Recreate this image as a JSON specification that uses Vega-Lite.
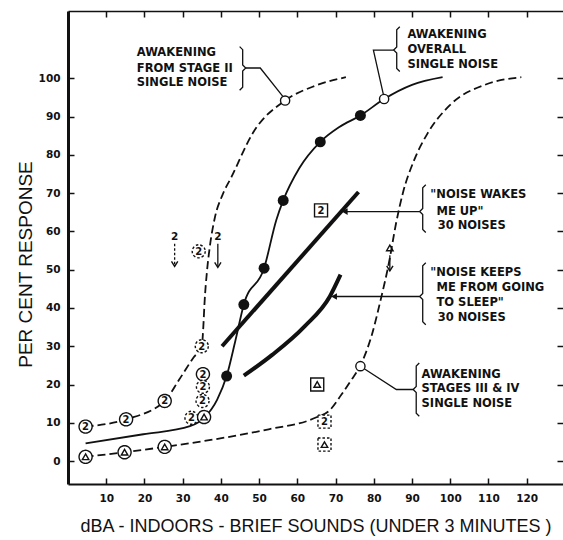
{
  "$schema": "https://vega.github.io/schema/vega-lite/v6.json",
  "width": 495,
  "height": 473,
  "autosize": {"type": "none"},
  "padding": {"left": 68, "top": 11, "right": 0, "bottom": 56},
  "background": "white",
  "config": {
    "view": {"stroke": null},
    "axis": {
      "grid": false,
      "labelFont": "DejaVu Sans",
      "labelFontWeight": "bold",
      "labelFontSize": 10.5,
      "labelColor": "#111",
      "tickColor": "#111",
      "domainColor": "#111",
      "titleFont": "Liberation Sans",
      "titleFontWeight": "normal",
      "titleColor": "#111"
    }
  },
  "resolve": {"axis": {"x": "independent", "y": "independent"}},
  "datasets": {
    "curves": [
      {"s": "stage2", "x": 4.6, "y": 9.0},
      {"s": "stage2", "x": 15.2, "y": 10.9},
      {"s": "stage2", "x": 25.3, "y": 15.7},
      {"s": "stage2", "x": 29.1, "y": 21.3},
      {"s": "stage2", "x": 32.8, "y": 27.0},
      {"s": "stage2", "x": 35.0, "y": 30.0},
      {"s": "stage2", "x": 35.4, "y": 35.0},
      {"s": "stage2", "x": 35.7, "y": 41.0},
      {"s": "stage2", "x": 36.4, "y": 50.0},
      {"s": "stage2", "x": 37.1, "y": 56.0},
      {"s": "stage2", "x": 38.4, "y": 63.5},
      {"s": "stage2", "x": 40.4, "y": 69.5},
      {"s": "stage2", "x": 42.8, "y": 74.3},
      {"s": "stage2", "x": 48.4, "y": 85.8},
      {"s": "stage2", "x": 56.8, "y": 94.2},
      {"s": "stage2", "x": 64.5, "y": 98.0},
      {"s": "stage2", "x": 72.7, "y": 100.3},
      {"s": "stage34", "x": 4.6, "y": 1.1},
      {"s": "stage34", "x": 14.8, "y": 2.3},
      {"s": "stage34", "x": 25.3, "y": 3.7},
      {"s": "stage34", "x": 38.5, "y": 5.7},
      {"s": "stage34", "x": 52.5, "y": 8.3},
      {"s": "stage34", "x": 64.7, "y": 11.3},
      {"s": "stage34", "x": 68.5, "y": 13.3},
      {"s": "stage34", "x": 71.5, "y": 17.3},
      {"s": "stage34", "x": 74.0, "y": 21.0},
      {"s": "stage34", "x": 76.5, "y": 25.0},
      {"s": "stage34", "x": 79.5, "y": 33.0},
      {"s": "stage34", "x": 81.6, "y": 41.3},
      {"s": "stage34", "x": 84.0, "y": 52.0},
      {"s": "stage34", "x": 85.8, "y": 62.0},
      {"s": "stage34", "x": 87.6, "y": 70.0},
      {"s": "stage34", "x": 90.5, "y": 78.5},
      {"s": "stage34", "x": 94.0, "y": 85.5},
      {"s": "stage34", "x": 99.9, "y": 93.0},
      {"s": "stage34", "x": 109.3, "y": 98.4},
      {"s": "stage34", "x": 118.6, "y": 100.3},
      {"s": "overall", "x": 4.6, "y": 4.6},
      {"s": "overall", "x": 19.7, "y": 7.0},
      {"s": "overall", "x": 31.9, "y": 9.1},
      {"s": "overall", "x": 35.6, "y": 11.3},
      {"s": "overall", "x": 39.0, "y": 16.0},
      {"s": "overall", "x": 41.5, "y": 22.2},
      {"s": "overall", "x": 43.8, "y": 31.5},
      {"s": "overall", "x": 46.0, "y": 40.9},
      {"s": "overall", "x": 51.3, "y": 50.4},
      {"s": "overall", "x": 54.5, "y": 63.0},
      {"s": "overall", "x": 56.3, "y": 68.1},
      {"s": "overall", "x": 60.5, "y": 76.5},
      {"s": "overall", "x": 66.0, "y": 83.4},
      {"s": "overall", "x": 71.0, "y": 87.3},
      {"s": "overall", "x": 76.5, "y": 90.3},
      {"s": "overall", "x": 82.7, "y": 94.6},
      {"s": "overall", "x": 90.0, "y": 98.3},
      {"s": "overall", "x": 98.0, "y": 100.3},
      {"s": "wakes", "x": 40.3, "y": 30.0},
      {"s": "wakes", "x": 76.0, "y": 70.3},
      {"s": "keeps", "x": 46.0, "y": 22.3},
      {"s": "keeps", "x": 53.5, "y": 27.8},
      {"s": "keeps", "x": 61.9, "y": 35.2},
      {"s": "keeps", "x": 68.5, "y": 43.0},
      {"s": "keeps", "x": 71.3, "y": 48.7}
    ],
    "paths": [
      {"g": "b1", "o": 1, "st": "solid", "x": 44.9, "y": 108.3},
      {"g": "b1", "o": 2, "st": "solid", "x": 45.7, "y": 107.5},
      {"g": "b1", "o": 3, "st": "solid", "x": 45.7, "y": 103.5},
      {"g": "b1", "o": 4, "st": "solid", "x": 46.5, "y": 102.7},
      {"g": "b1", "o": 5, "st": "solid", "x": 45.7, "y": 101.9},
      {"g": "b1", "o": 6, "st": "solid", "x": 45.7, "y": 97.7},
      {"g": "b1", "o": 7, "st": "solid", "x": 44.9, "y": 96.9},
      {"g": "l1", "o": 1, "st": "solid", "x": 46.5, "y": 102.7},
      {"g": "l1", "o": 2, "st": "solid", "x": 50.3, "y": 102.7},
      {"g": "l1", "o": 3, "st": "solid", "x": 56.2, "y": 95.3},
      {"g": "b2", "o": 1, "st": "solid", "x": 86.8, "y": 113.5},
      {"g": "b2", "o": 2, "st": "solid", "x": 86.0, "y": 112.7},
      {"g": "b2", "o": 3, "st": "solid", "x": 86.0, "y": 108.2},
      {"g": "b2", "o": 4, "st": "solid", "x": 85.2, "y": 107.4},
      {"g": "b2", "o": 5, "st": "solid", "x": 86.0, "y": 106.6},
      {"g": "b2", "o": 6, "st": "solid", "x": 86.0, "y": 102.6},
      {"g": "b2", "o": 7, "st": "solid", "x": 86.8, "y": 101.8},
      {"g": "l2", "o": 1, "st": "solid", "x": 85.2, "y": 107.4},
      {"g": "l2", "o": 2, "st": "solid", "x": 79.9, "y": 107.4},
      {"g": "l2", "o": 3, "st": "solid", "x": 82.5, "y": 95.8},
      {"g": "b3", "o": 1, "st": "solid", "x": 93.6, "y": 72.2},
      {"g": "b3", "o": 2, "st": "solid", "x": 92.8, "y": 71.4},
      {"g": "b3", "o": 3, "st": "solid", "x": 92.8, "y": 66.0},
      {"g": "b3", "o": 4, "st": "solid", "x": 92.0, "y": 65.2},
      {"g": "b3", "o": 5, "st": "solid", "x": 92.8, "y": 64.4},
      {"g": "b3", "o": 6, "st": "solid", "x": 92.8, "y": 60.5},
      {"g": "b3", "o": 7, "st": "solid", "x": 93.6, "y": 59.7},
      {"g": "l3", "o": 1, "st": "solid", "x": 92.0, "y": 65.2},
      {"g": "l3", "o": 2, "st": "solid", "x": 72.6, "y": 65.2},
      {"g": "b4", "o": 1, "st": "solid", "x": 93.6, "y": 51.8},
      {"g": "b4", "o": 2, "st": "solid", "x": 92.8, "y": 51.0},
      {"g": "b4", "o": 3, "st": "solid", "x": 92.8, "y": 43.8},
      {"g": "b4", "o": 4, "st": "solid", "x": 92.0, "y": 43.0},
      {"g": "b4", "o": 5, "st": "solid", "x": 92.8, "y": 42.2},
      {"g": "b4", "o": 6, "st": "solid", "x": 92.8, "y": 36.4},
      {"g": "b4", "o": 7, "st": "solid", "x": 93.6, "y": 35.6},
      {"g": "l4", "o": 1, "st": "solid", "x": 92.0, "y": 43.0},
      {"g": "l4", "o": 2, "st": "solid", "x": 69.8, "y": 43.0},
      {"g": "b5", "o": 1, "st": "solid", "x": 91.9, "y": 25.6},
      {"g": "b5", "o": 2, "st": "solid", "x": 91.1, "y": 24.8},
      {"g": "b5", "o": 3, "st": "solid", "x": 91.1, "y": 19.5},
      {"g": "b5", "o": 4, "st": "solid", "x": 90.3, "y": 18.7},
      {"g": "b5", "o": 5, "st": "solid", "x": 91.1, "y": 17.9},
      {"g": "b5", "o": 6, "st": "solid", "x": 91.1, "y": 12.5},
      {"g": "b5", "o": 7, "st": "solid", "x": 91.9, "y": 11.7},
      {"g": "l5", "o": 1, "st": "solid", "x": 90.3, "y": 18.7},
      {"g": "l5", "o": 2, "st": "solid", "x": 85.9, "y": 18.7},
      {"g": "l5", "o": 3, "st": "solid", "x": 77.2, "y": 24.3},
      {"g": "a1", "o": 1, "st": "dashed", "x": 27.9, "y": 56.8},
      {"g": "a1", "o": 2, "st": "dashed", "x": 27.9, "y": 51.0},
      {"g": "a2", "o": 1, "st": "solid", "x": 39.2, "y": 56.8},
      {"g": "a2", "o": 2, "st": "solid", "x": 39.2, "y": 50.7},
      {"g": "a3", "o": 1, "st": "solid", "x": 84.2, "y": 53.8},
      {"g": "a3", "o": 2, "st": "solid", "x": 84.2, "y": 49.8}
    ],
    "dots": [
      {"x": 41.5, "y": 22.2},
      {"x": 46.0, "y": 40.9},
      {"x": 51.3, "y": 50.4},
      {"x": 56.3, "y": 68.1},
      {"x": 66.0, "y": 83.4},
      {"x": 76.5, "y": 90.3}
    ],
    "ovals": [
      {"x": 56.8, "y": 94.2},
      {"x": 82.7, "y": 94.6},
      {"x": 76.5, "y": 24.8}
    ],
    "markers": [
      {"x": 4.6, "y": 9.0, "frame": "circle", "dash": "solid", "inner": "2"},
      {"x": 15.2, "y": 10.9, "frame": "circle", "dash": "solid", "inner": "2"},
      {"x": 25.3, "y": 15.7, "frame": "circle", "dash": "solid", "inner": "2"},
      {"x": 35.3, "y": 22.7, "frame": "circle", "dash": "solid", "inner": "2"},
      {"x": 35.0, "y": 30.0, "frame": "circle", "dash": "dashed", "inner": "2"},
      {"x": 35.3, "y": 19.4, "frame": "circle", "dash": "dashed", "inner": "2"},
      {"x": 35.2, "y": 15.7, "frame": "circle", "dash": "dashed", "inner": "2"},
      {"x": 32.3, "y": 11.3, "frame": "circle", "dash": "dashed", "inner": "2"},
      {"x": 34.2, "y": 54.8, "frame": "circle", "dash": "dashed", "inner": "2"},
      {"x": 4.6, "y": 1.1, "frame": "circle", "dash": "solid", "inner": "tri"},
      {"x": 14.8, "y": 2.3, "frame": "circle", "dash": "solid", "inner": "tri"},
      {"x": 25.3, "y": 3.7, "frame": "circle", "dash": "solid", "inner": "tri"},
      {"x": 35.6, "y": 11.5, "frame": "circle", "dash": "solid", "inner": "tri"},
      {"x": 66.2, "y": 65.5, "frame": "square", "dash": "solid", "inner": "2"},
      {"x": 65.2, "y": 20.0, "frame": "square", "dash": "solid", "inner": "tri"},
      {"x": 67.1, "y": 10.3, "frame": "square", "dash": "dashed", "inner": "2"},
      {"x": 67.1, "y": 4.3, "frame": "square", "dash": "dashed", "inner": "tri"},
      {"x": 84.2, "y": 55.7, "frame": "none", "dash": "solid", "inner": "tri"}
    ],
    "lefthead": [
      {"x": 72.4, "y": 65.2},
      {"x": 69.6, "y": 43.0}
    ],
    "downhead": [
      {"x": 27.9, "y": 51.2},
      {"x": 39.2, "y": 50.9},
      {"x": 84.2, "y": 50.0}
    ],
    "arrowlabels": [
      {"x": 27.9, "y": 58.6, "t": "2"},
      {"x": 39.2, "y": 58.6, "t": "2"}
    ],
    "labels": [
      {"x": 18.0, "y": 106.6, "t": "AWAKENING"},
      {"x": 18.0, "y": 102.5, "t": "FROM STAGE II"},
      {"x": 18.0, "y": 98.7, "t": "SINGLE NOISE"},
      {"x": 88.8, "y": 111.4, "t": "AWAKENING"},
      {"x": 88.8, "y": 107.4, "t": "OVERALL"},
      {"x": 88.8, "y": 103.5, "t": "SINGLE NOISE"},
      {"x": 94.8, "y": 69.6, "t": "\"NOISE WAKES"},
      {"x": 96.4, "y": 65.2, "t": "ME UP\""},
      {"x": 96.7, "y": 61.3, "t": "30 NOISES"},
      {"x": 94.8, "y": 49.1, "t": "\"NOISE KEEPS"},
      {"x": 96.4, "y": 45.2, "t": "ME FROM GOING"},
      {"x": 96.4, "y": 41.3, "t": "TO SLEEP\""},
      {"x": 96.7, "y": 37.4, "t": "30 NOISES"},
      {"x": 92.5, "y": 22.6, "t": "AWAKENING"},
      {"x": 92.5, "y": 18.7, "t": "STAGES III & IV"},
      {"x": 92.5, "y": 14.8, "t": "SINGLE NOISE"}
    ]
  },
  "layer": [
    {
      "data": {"name": "curves"},
      "transform": [{"filter": "datum.s === 'stage2' || datum.s === 'stage34'"}],
      "mark": {"type": "line", "interpolate": "monotone", "stroke": "#111", "strokeWidth": 1.8, "strokeDash": [8, 4]},
      "encoding": {
        "x": {"field": "x", "type": "quantitative", "scale": {"domain": [0, 129.5], "nice": false, "zero": false},
          "axis": {"orient": "bottom", "values": [10, 20, 30, 40, 50, 60, 70, 80, 90, 100, 110, 120], "tickSize": -6, "tickWidth": 1.5, "domainWidth": 2, "labelPadding": 15,
            "title": "dBA - INDOORS - BRIEF SOUNDS  (UNDER 3 MINUTES )", "titleFontSize": 18, "titlePadding": 14}},
        "y": {"field": "y", "type": "quantitative", "scale": {"domain": [-6, 117.6], "nice": false, "zero": false},
          "axis": {"orient": "left", "values": [0, 10, 20, 30, 40, 50, 60, 70, 80, 90, 100], "tickSize": -6, "tickWidth": 1.5, "domainWidth": 3, "labelPadding": 14,
            "title": "PER  CENT  RESPONSE", "titleFontSize": 19, "titleAngle": 270, "titleX": -43, "titleY": 253, "titleAlign": "center", "titleBaseline": "middle", "titleAnchor": null}},
        "detail": {"field": "s"}
      }
    },
    {
      "data": {"name": "curves"},
      "mark": {"type": "point", "opacity": 0},
      "encoding": {
        "x": {"field": "x", "type": "quantitative", "scale": {"domain": [0, 129.5], "nice": false, "zero": false},
          "axis": {"orient": "top", "values": [10, 20, 30, 40, 50, 60, 70, 80, 90, 100, 110, 120, 130], "tickSize": -6, "tickWidth": 1.5, "domainWidth": 1.5, "labels": false, "title": null}},
        "y": {"field": "y", "type": "quantitative", "scale": {"domain": [-6, 117.6], "nice": false, "zero": false},
          "axis": {"orient": "right", "values": [0, 10, 20, 30, 40, 50, 60, 70, 80, 90, 100], "tickSize": -6, "tickWidth": 1.5, "domain": false, "labels": false, "title": null}}
      }
    },
    {
      "data": {"name": "curves"},
      "transform": [{"filter": "datum.s === 'overall'"}],
      "mark": {"type": "line", "interpolate": "monotone", "stroke": "#111", "strokeWidth": 1.8},
      "encoding": {
        "x": {"field": "x", "type": "quantitative", "scale": {"domain": [0, 129.5], "nice": false, "zero": false}, "axis": null},
        "y": {"field": "y", "type": "quantitative", "scale": {"domain": [-6, 117.6], "nice": false, "zero": false}, "axis": null}
      }
    },
    {
      "data": {"name": "curves"},
      "transform": [{"filter": "datum.s === 'wakes' || datum.s === 'keeps'"}],
      "mark": {"type": "line", "interpolate": "monotone", "stroke": "#111", "strokeWidth": 4},
      "encoding": {
        "x": {"field": "x", "type": "quantitative", "scale": {"domain": [0, 129.5], "nice": false, "zero": false}, "axis": null},
        "y": {"field": "y", "type": "quantitative", "scale": {"domain": [-6, 117.6], "nice": false, "zero": false}, "axis": null},
        "detail": {"field": "s"}
      }
    },
    {
      "data": {"name": "paths"},
      "transform": [{"filter": "datum.st === 'solid'"}],
      "mark": {"type": "line", "stroke": "#111", "strokeWidth": 1.3},
      "encoding": {
        "x": {"field": "x", "type": "quantitative", "scale": {"domain": [0, 129.5], "nice": false, "zero": false}, "axis": null},
        "y": {"field": "y", "type": "quantitative", "scale": {"domain": [-6, 117.6], "nice": false, "zero": false}, "axis": null},
        "detail": {"field": "g"},
        "order": {"field": "o"}
      }
    },
    {
      "data": {"name": "paths"},
      "transform": [{"filter": "datum.st === 'dashed'"}],
      "mark": {"type": "line", "stroke": "#111", "strokeWidth": 1.3, "strokeDash": [2.5, 2]},
      "encoding": {
        "x": {"field": "x", "type": "quantitative", "scale": {"domain": [0, 129.5], "nice": false, "zero": false}, "axis": null},
        "y": {"field": "y", "type": "quantitative", "scale": {"domain": [-6, 117.6], "nice": false, "zero": false}, "axis": null},
        "detail": {"field": "g"},
        "order": {"field": "o"}
      }
    },
    {
      "data": {"name": "ovals"},
      "mark": {"type": "point", "shape": "circle", "size": 85, "filled": true, "fill": "white", "stroke": "#111", "strokeWidth": 1.4, "opacity": 1},
      "encoding": {
        "x": {"field": "x", "type": "quantitative", "scale": {"domain": [0, 129.5], "nice": false, "zero": false}, "axis": null},
        "y": {"field": "y", "type": "quantitative", "scale": {"domain": [-6, 117.6], "nice": false, "zero": false}, "axis": null}
      }
    },
    {
      "data": {"name": "markers"},
      "transform": [{"filter": "datum.frame !== 'none'"}],
      "mark": {"type": "point", "size": 170, "filled": true, "fill": "white", "stroke": "#111", "strokeWidth": 1.4, "opacity": 1},
      "encoding": {
        "x": {"field": "x", "type": "quantitative", "scale": {"domain": [0, 129.5], "nice": false, "zero": false}, "axis": null},
        "y": {"field": "y", "type": "quantitative", "scale": {"domain": [-6, 117.6], "nice": false, "zero": false}, "axis": null},
        "shape": {"field": "frame", "type": "nominal", "scale": {"domain": ["circle", "square"], "range": ["circle", "square"]}, "legend": null},
        "strokeDash": {"field": "dash", "type": "nominal", "scale": {"domain": ["solid", "dashed"], "range": [[1, 0], [2.5, 2]]}, "legend": null}
      }
    },
    {
      "data": {"name": "markers"},
      "transform": [{"filter": "datum.inner === '2'"}],
      "mark": {"type": "text", "font": "DejaVu Sans", "fontWeight": "bold", "fontSize": 10, "align": "center", "baseline": "middle", "dy": 0.5, "color": "#111"},
      "encoding": {
        "x": {"field": "x", "type": "quantitative", "scale": {"domain": [0, 129.5], "nice": false, "zero": false}, "axis": null},
        "y": {"field": "y", "type": "quantitative", "scale": {"domain": [-6, 117.6], "nice": false, "zero": false}, "axis": null},
        "text": {"field": "inner"}
      }
    },
    {
      "data": {"name": "markers"},
      "transform": [{"filter": "datum.inner === 'tri'"}],
      "mark": {"type": "point", "shape": "triangle-up", "size": 42, "filled": false, "stroke": "#111", "strokeWidth": 1.4, "opacity": 1},
      "encoding": {
        "x": {"field": "x", "type": "quantitative", "scale": {"domain": [0, 129.5], "nice": false, "zero": false}, "axis": null},
        "y": {"field": "y", "type": "quantitative", "scale": {"domain": [-6, 117.6], "nice": false, "zero": false}, "axis": null}
      }
    },
    {
      "data": {"name": "dots"},
      "mark": {"type": "point", "shape": "circle", "size": 120, "filled": true, "color": "#111", "opacity": 1},
      "encoding": {
        "x": {"field": "x", "type": "quantitative", "scale": {"domain": [0, 129.5], "nice": false, "zero": false}, "axis": null},
        "y": {"field": "y", "type": "quantitative", "scale": {"domain": [-6, 117.6], "nice": false, "zero": false}, "axis": null}
      }
    },
    {
      "data": {"name": "lefthead"},
      "mark": {"type": "point", "shape": "triangle-left", "size": 45, "filled": true, "color": "#111", "opacity": 1},
      "encoding": {
        "x": {"field": "x", "type": "quantitative", "scale": {"domain": [0, 129.5], "nice": false, "zero": false}, "axis": null},
        "y": {"field": "y", "type": "quantitative", "scale": {"domain": [-6, 117.6], "nice": false, "zero": false}, "axis": null}
      }
    },
    {
      "data": {"name": "downhead"},
      "mark": {"type": "point", "shape": "M-1,-1.2L0,0.4L1,-1.2", "size": 40, "filled": false, "stroke": "#111", "strokeWidth": 1.4, "opacity": 1},
      "encoding": {
        "x": {"field": "x", "type": "quantitative", "scale": {"domain": [0, 129.5], "nice": false, "zero": false}, "axis": null},
        "y": {"field": "y", "type": "quantitative", "scale": {"domain": [-6, 117.6], "nice": false, "zero": false}, "axis": null}
      }
    },
    {
      "data": {"name": "arrowlabels"},
      "mark": {"type": "text", "font": "DejaVu Sans", "fontWeight": "bold", "fontSize": 10.5, "align": "center", "baseline": "middle", "color": "#111"},
      "encoding": {
        "x": {"field": "x", "type": "quantitative", "scale": {"domain": [0, 129.5], "nice": false, "zero": false}, "axis": null},
        "y": {"field": "y", "type": "quantitative", "scale": {"domain": [-6, 117.6], "nice": false, "zero": false}, "axis": null},
        "text": {"field": "t"}
      }
    },
    {
      "data": {"name": "labels"},
      "mark": {"type": "text", "font": "DejaVu Sans", "fontWeight": "bold", "fontSize": 11.5, "align": "left", "baseline": "middle", "color": "#111"},
      "encoding": {
        "x": {"field": "x", "type": "quantitative", "scale": {"domain": [0, 129.5], "nice": false, "zero": false}, "axis": null},
        "y": {"field": "y", "type": "quantitative", "scale": {"domain": [-6, 117.6], "nice": false, "zero": false}, "axis": null},
        "text": {"field": "t"}
      }
    }
  ]
}
